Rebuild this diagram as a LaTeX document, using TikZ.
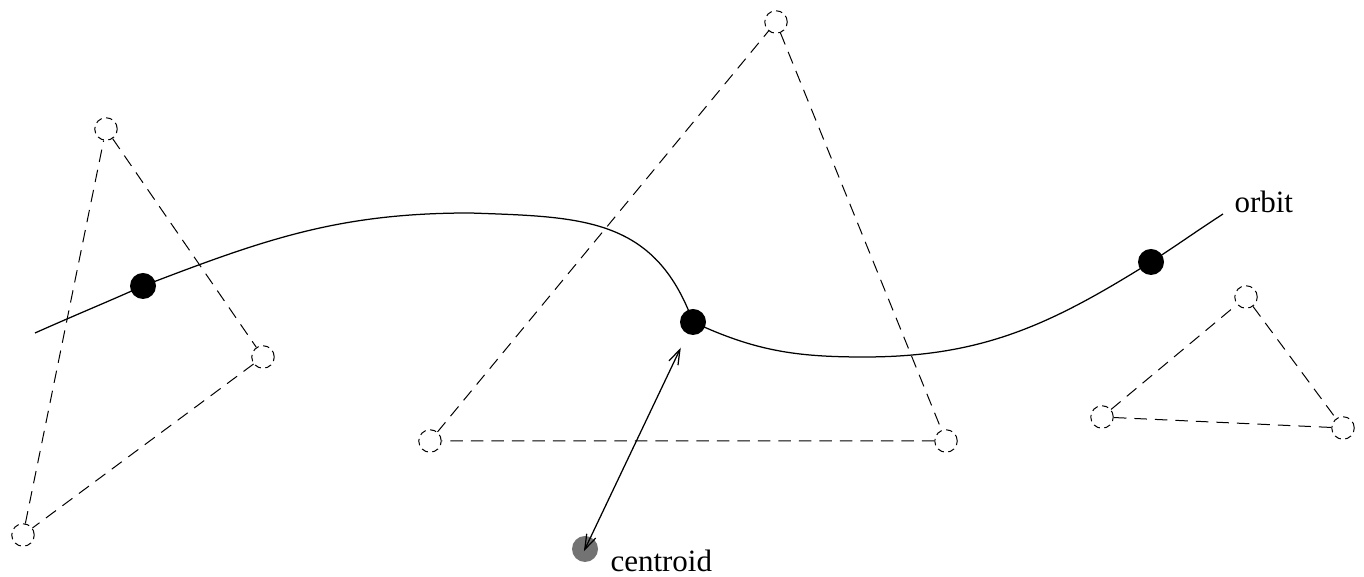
\documentclass[tikz,border=0pt]{standalone}
\usepackage{fontspec}
\setmainfont{Liberation Serif}
\usetikzlibrary{arrows.meta}
\tikzset{
  vtx/.style={draw, circle, dash pattern=on 2.6pt off 1.8pt, minimum size=9pt, inner sep=0pt, line width=0.4pt},
  mass/.style={circle, fill=#1, minimum size=10.4pt, inner sep=0pt},
  mass/.default={black},
  edge/.style={dash pattern=on 5pt off 3.2pt, line width=0.4pt},
  orbitline/.style={line width=0.5pt},
  dist/.style={{Straight Barb[length=6pt,width=4pt]}-{Straight Barb[length=6pt,width=4pt]}, line width=0.5pt},
  lbl/.style={font=\fontsize{12.4}{15}\selectfont, inner sep=0pt, anchor=base west}
}

\begin{document}
\begin{tikzpicture}[x=0.4pt, y=0.4pt]
  \useasboundingbox (0,0) rectangle (1364,577);
  % triangles
  \node[vtx] (lt) at (106,448) {};
  \node[vtx] (lr) at (263,220) {};
  \node[vtx] (lb) at (23,42) {};
  \node[vtx] (mt) at (776,555) {};
  \node[vtx] (ml) at (430,136) {};
  \node[vtx] (mr) at (946,136) {};
  \node[vtx] (rt) at (1246,280) {};
  \node[vtx] (rl) at (1102,160) {};
  \node[vtx] (rr) at (1343,149) {};
  \draw[edge] (lt) -- (lr) -- (lb) -- (lt);
  \draw[edge] (mt) -- (mr) -- (ml) -- (mt);
  \draw[edge] (rt) -- (rr) -- (rl) -- (rt);
  % orbit
  \coordinate (o0) at (35,244);
  \coordinate (top) at (470,364);
  \coordinate (low) at (864,220);
  \coordinate (o9) at (1223,363);
  \coordinate (d1) at (143,291);
  \coordinate (d2) at (693,255);
  \coordinate (d3) at (1151,315);
  \draw[orbitline] (o0) to[out=24,in=204] (d1) to[out=21,in=180] (top)
    to[out=-2,in=110,looseness=1.15] (d2) to[out=-25,in=180] (low)
    to[out=0,in=212] (d3) to[out=33,in=213] (o9);
  \node[mass] (m1) at (d1) {};
  \node[mass] (m2) at (d2) {};
  \node[mass] (m3) at (d3) {};
  \node[lbl] (orb) at (1234,364) {orbit};
  % centroid
  \node[mass=black!55] (cen) at (585,28) {};
  \node[lbl] (cenlbl) at (610,5) {centroid};
  \draw[dist, shorten <=-1pt, shorten >=6pt] (cen.center) -- (m2);
\end{tikzpicture}
\end{document}
